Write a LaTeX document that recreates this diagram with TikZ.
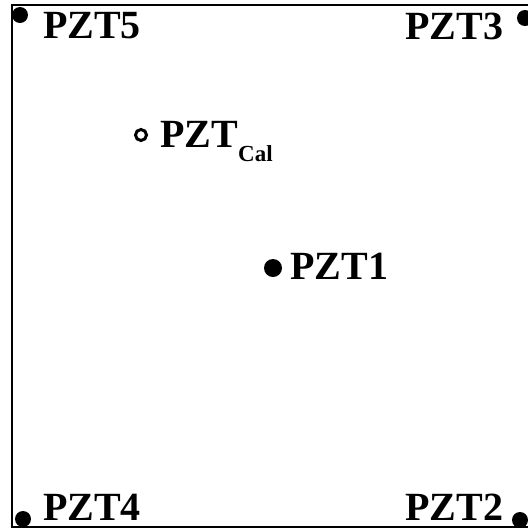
\documentclass[tikz,border=0pt]{standalone}
\usepackage{fontspec}
\setmainfont{Liberation Serif}
\begin{document}
\begin{tikzpicture}[x=1pt,y=-1pt,
  lbl/.style={anchor=base west,inner sep=0pt,font=\bfseries\fontsize{40}{44}\selectfont},
  sub/.style={anchor=base west,inner sep=0pt,font=\bfseries\fontsize{23}{26}\selectfont},
  sensor/.style={circle,fill=black,inner sep=0pt,minimum size=16pt},
  bigsensor/.style={circle,fill=black,inner sep=0pt,minimum size=18pt},
  calsensor/.style={circle,draw=black,line width=3pt,fill=white,inner sep=0pt,minimum size=11pt},
  frame/.style={line width=2pt}]
\useasboundingbox (0,0) rectangle (528,531);
\coordinate (tl) at (12,5);
\coordinate (tr) at (528,5);
\coordinate (bl) at (12,527);
\coordinate (br) at (528,527);
\draw[frame] (tr) -- (tl) -- (bl) -- (br);
\node[sensor] (s5) at (20,15) {};
\node[sensor] (s3) at (525,18) {};
\node[sensor] (s4) at (23,519) {};
\node[sensor] (s2) at (520,520) {};
\node[bigsensor] (s1) at (273,268) {};
\node[calsensor] (sc) at (141,135) {};
\node[lbl] (t5) at (43,38) {PZT5};
\node[lbl] (t3) at (405,39) {PZT3};
\node[lbl] (t4) at (43,520) {PZT4};
\node[lbl] (t2) at (405,520) {PZT2};
\node[lbl] (t1) at (290,279) {PZT1};
\node[lbl] (tc) at (160,147) {PZT};
\node[sub] (tcs) at (238,161) {Cal};
\end{tikzpicture}
\end{document}
